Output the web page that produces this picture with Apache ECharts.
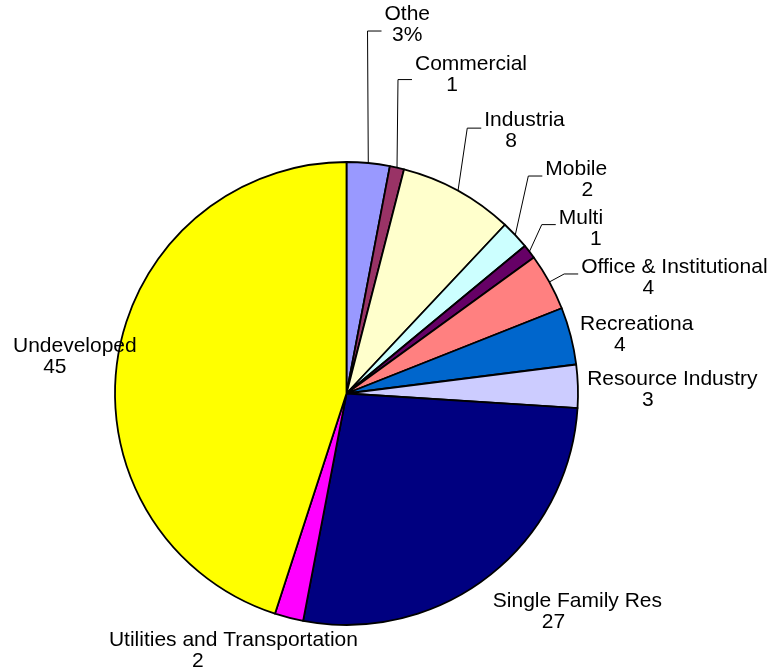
<!DOCTYPE html>
<html><head><meta charset="utf-8">
<script src="https://cdn.jsdelivr.net/npm/echarts@6/dist/echarts.min.js"></script>
<style>html,body{margin:0;padding:0;background:#fff}#chart{width:774px;height:671px}</style>
</head><body><div id="chart"></div>
<script>
const categories = ['Othe','Commercial','Industria','Mobile','Multi','Office & Institutional','Recreationa','Resource Industry','Single Family Res','Utilities and Transportation','Undeveloped'];
const values = [3,1,8,2,1,4,4,3,27,2,45];
const valueSuffix = ['%','','','','','','','','','',''];
const colors = ['#9999FF','#993366','#FFFFCC','#CCFFFF','#660066','#FF8080','#0066CC','#CCCCFF','#000080','#FF00FF','#FFFF00'];

// layout
const CX = 346.5, CY = 393.5, R = 231.5;
const labelOffsets = [[39,-138],[74,-93],[66.5,-60],[61,-55.5],[51.5,-22.5],[125,-4.5],[66,-1.5],[94.5,3],[89,35.5],[-55.5,33],[-43,-1]];
const valueShift = [0,-19,-13.5,11,15,-26,-17,-24.5,-24,-35.5,-20];
const leaderDy = [6,5,-2.5,-3.5,-4.5,-3.5,null,null,null,null,null];

const total = values.reduce((a,b)=>a+b,0);
let cum = 0;
const anchors = values.map(v => {
  const a = (cum + v/2)/total*2*Math.PI; cum += v;
  return [CX + R*Math.sin(a), CY - R*Math.cos(a)];
});

const FONT = "'Liberation Sans', Arial, sans-serif";
const rich = { n: {fontSize:21, lineHeight:21, color:'#000', fontFamily:FONT} };
valueShift.forEach((d,i)=>{
  rich['v'+i] = {fontSize:21, lineHeight:21, color:'#000', fontFamily:FONT,
    padding: d>=0 ? [0,0,0,2*d] : [0,-2*d,0,0]};
});

const chart = echarts.init(document.getElementById('chart'));
chart.setOption({
  animation:false,
  series:[{
    type:'pie',
    center:[CX, CY],
    radius:R,
    startAngle:90,
    clockwise:true,
    avoidLabelOverlap:false,
    minShowLabelAngle:0,
    itemStyle:{borderColor:'#000', borderWidth:1.8},
    label:{
      show:true, position:'outside',
      formatter: p => `{n|${p.name}}\n{v${p.dataIndex}|${p.value}${valueSuffix[p.dataIndex]}}`,
      rich: rich
    },
    labelLine:{show:true, lineStyle:{color:'#000', width:1}},
    emphasis:{disabled:true},
    labelLayout: function(p){
      const i = p.dataIndex, a = anchors[i], o = labelOffsets[i];
      const x = a[0]+o[0], y = a[1]+o[1];
      const res = {x:x, y:y, align:'center', verticalAlign:'middle'};
      if (leaderDy[i] !== null) {
        const endX = x - p.labelRect.width/2 - 3, ly = y + leaderDy[i];
        res.labelLinePoints = [[a[0],a[1]],[endX-14,ly],[endX,ly]];
      }
      return res;
    },
    data: categories.map((c,i)=>({
      name:c, value:values[i],
      itemStyle:{color:colors[i]},
      labelLine:{show: leaderDy[i] !== null}
    }))
  }]
});
</script>
</body></html>
